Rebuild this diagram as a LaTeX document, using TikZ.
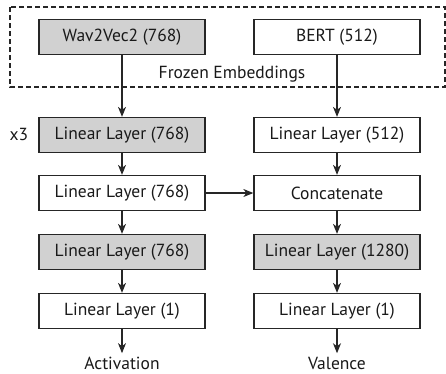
\documentclass[tikz,border=0pt]{standalone}
\usepackage{fontspec}
\setmainfont{PT Sans}
\usetikzlibrary{arrows.meta}
\begin{document}
\begin{tikzpicture}[x=1pt,y=-1pt,
  every node/.style={font=\fontsize{17.5}{20}\selectfont, text=black!90},
  layer/.style={draw=black!85, line width=1.3pt, minimum width=166pt, minimum height=35pt, inner sep=0pt, anchor=center},
  grey/.style={layer, fill=black!18},
  plain/.style={layer, fill=white},
  conn/.style={draw=black!85, line width=1.1pt, -{Stealth[length=10pt,width=8pt,inset=3pt]}}]
\useasboundingbox (0,0) rectangle (446,373);
\draw[black!85, line width=1.1pt, dash pattern=on 5pt off 3pt] (10,7) rectangle (445,87);
\node[grey]  (w2v) at (122,37) {Wav2Vec2 (768)};
\node[plain] (bert) at (337,37) {BERT (512)};
\node (frozen) at (232,74) {Frozen Embeddings};
\node[grey]  (l1) at (122,135) {Linear Layer (768)};
\node[plain] (r1) at (337,135) {Linear Layer (512)};
\node[plain] (l2) at (122,193) {Linear Layer (768)};
\node[plain] (r2) at (337,193) {Concatenate};
\node[grey]  (l3) at (122,252) {Linear Layer (768)};
\node[grey]  (r3) at (337,252) {Linear Layer (1280)};
\node[plain] (l4) at (122,311) {Linear Layer (1)};
\node[plain] (r4) at (337,311) {Linear Layer (1)};
\node (act) at (122,363) {Activation};
\node (val) at (337,363) {Valence};
\node (x3) at (19,134) {x3};
\draw[conn] (w2v) -- (l1);
\draw[conn] (bert) -- (r1);
\draw[conn] (l1) -- (l2);
\draw[conn] (r1) -- (r2);
\draw[conn] (l2) -- (r2);
\draw[conn] (l2) -- (l3);
\draw[conn] (r2) -- (r3);
\draw[conn] (l3) -- (l4);
\draw[conn] (r3) -- (r4);
\draw[conn] (l4) -- (act.north);
\draw[conn] (r4) -- (val.north);
\end{tikzpicture}
\end{document}
